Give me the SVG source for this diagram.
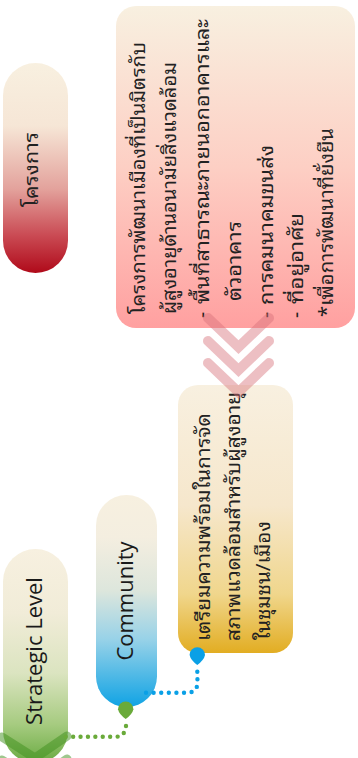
<svg xmlns="http://www.w3.org/2000/svg" width="358" height="758" viewBox="0 0 358 758">
  <defs>
    <linearGradient id="gradProject" x1="0" y1="0" x2="0" y2="1">
      <stop offset="0" stop-color="#f8f0e0"/>
      <stop offset="0.3" stop-color="#f6e6d6"/>
      <stop offset="0.6" stop-color="#e3a29c"/>
      <stop offset="0.82" stop-color="#ca4b54"/>
      <stop offset="1" stop-color="#b00a1a"/>
    </linearGradient>
    <linearGradient id="gradDetail" x1="0" y1="0" x2="0" y2="1">
      <stop offset="0" stop-color="#f8f0e0"/>
      <stop offset="0.5" stop-color="#fdcfc4"/>
      <stop offset="1" stop-color="#ffa0a0"/>
    </linearGradient>
    <linearGradient id="gradPrepare" x1="0" y1="0" x2="0" y2="1">
      <stop offset="0" stop-color="#f8f0e0"/>
      <stop offset="0.45" stop-color="#f6e7cc"/>
      <stop offset="0.78" stop-color="#f0d68c"/>
      <stop offset="1" stop-color="#e2ad22"/>
    </linearGradient>
    <linearGradient id="gradCommunity" x1="0" y1="0" x2="0" y2="1">
      <stop offset="0" stop-color="#f7f0e0"/>
      <stop offset="0.2" stop-color="#f4eee0"/>
      <stop offset="0.45" stop-color="#dde6dc"/>
      <stop offset="0.68" stop-color="#98d2e8"/>
      <stop offset="1" stop-color="#10a3e4"/>
    </linearGradient>
    <linearGradient id="gradStrategic" x1="0" y1="0" x2="0" y2="1">
      <stop offset="0" stop-color="#f7f0e0"/>
      <stop offset="0.3" stop-color="#f1ecd8"/>
      <stop offset="0.58" stop-color="#dbe4c0"/>
      <stop offset="0.82" stop-color="#a6cb80"/>
      <stop offset="1" stop-color="#6aab42"/>
    </linearGradient>
    <style>
      .thai { font-family: "Noto Sans Thai Looped", "Noto Serif Thai", "Loma", "Garuda", "Noto Sans Thai", "Noto Sans", sans-serif; font-size: 19px; fill: #222; }
      .latin { font-family: "Open Sans", "Liberation Sans", sans-serif; font-size: 22px; fill: #1a1a1a; }
      .chev-red { fill: none; stroke: #d8707a; stroke-opacity: 0.45; stroke-width: 10; stroke-linecap: round; stroke-linejoin: miter; }
      .chev-green { fill: none; stroke: #3f8f1e; stroke-opacity: 0.5; stroke-width: 9; stroke-linecap: round; }
      .dots-blue { fill: none; stroke: #0aa0e6; stroke-width: 4.4; stroke-linecap: round; stroke-dasharray: 0 7.6; }
      .dots-green { fill: none; stroke: #6aaa3a; stroke-width: 4.4; stroke-linecap: round; stroke-dasharray: 0 7.4; }
    </style>
  </defs>

  <!-- project heading -->
  <g id="node-project">
    <rect x="3" y="63" width="65" height="210" rx="32.5" fill="url(#gradProject)"/>
    <text class="thai" transform="rotate(-90)" x="-207" y="38" textLength="75" lengthAdjust="spacingAndGlyphs">โครงการ</text>
  </g>

  <!-- project detail card -->
  <g id="node-detail">
    <rect x="116" y="6" width="239" height="322" rx="20" fill="url(#gradDetail)"/>
    <g class="thai" transform="rotate(-90)" lengthAdjust="spacingAndGlyphs">
      <text x="-314" y="145" textLength="272" lengthAdjust="spacingAndGlyphs">โครงการพัฒนาเมืองที่เป็นมิตรกับ</text>
      <text x="-314" y="176" textLength="252" lengthAdjust="spacingAndGlyphs">ผู้สูงอายุด้านอนามัยสิ่งแวดล้อม</text>
      <text x="-318" y="209">-</text>
      <text x="-304" y="209" textLength="285" lengthAdjust="spacingAndGlyphs">พื้นที่สาธารณะภายนอกอาคารและ</text>
      <text x="-301" y="241" textLength="80" lengthAdjust="spacingAndGlyphs">ตัวอาคาร</text>
      <text x="-318" y="273">-</text>
      <text x="-305" y="273" textLength="160" lengthAdjust="spacingAndGlyphs">การคมนาคมขนส่ง</text>
      <text x="-318" y="303">-</text>
      <text x="-304" y="303" textLength="91" lengthAdjust="spacingAndGlyphs">ที่อยู่อาศัย</text>
      <text x="-317" y="333" textLength="189" lengthAdjust="spacingAndGlyphs">*เพื่อการพัฒนาที่ยั่งยืน</text>
    </g>
  </g>

  <!-- preparation card -->
  <g id="node-prepare">
    <rect x="178" y="385" width="115" height="268" rx="20" fill="url(#gradPrepare)"/>
    <g class="thai" transform="rotate(-90)">
      <text x="-641" y="210" textLength="228" lengthAdjust="spacingAndGlyphs">เตรียมความพร้อมในการจัด</text>
      <text x="-641" y="240" textLength="249" lengthAdjust="spacingAndGlyphs">สภาพแวดล้อมสำหรับผู้สูงอายุ</text>
      <text x="-640" y="270" textLength="119" lengthAdjust="spacingAndGlyphs">ในชุมชน/เมือง</text>
    </g>
  </g>

  <!-- community level -->
  <g id="node-community">
    <rect x="96" y="495" width="61" height="212" rx="30.5" fill="url(#gradCommunity)"/>
    <text class="latin" transform="rotate(-90)" x="-601" y="133" text-anchor="middle">Community</text>
  </g>

  <!-- strategic level -->
  <g id="node-strategic">
    <rect x="3" y="549" width="65" height="214" rx="32.5" fill="url(#gradStrategic)"/>
    <text class="latin" transform="rotate(-90)" x="-651" y="42" text-anchor="middle">Strategic Level</text>
  </g>

  <!-- connectors -->
  <g id="connectors">
    <polyline class="chev-red" points="208,318 238.5,347 269,318"/>
    <polyline class="chev-red" points="208,341 238.5,370 269,341"/>
    <polyline class="chev-red" points="208,363 238.5,392 269,363"/>

    <polyline class="chev-green" points="2,737 35,758 67,736"/>
    <polyline class="chev-green" points="2,760 35,781 67,759" stroke-opacity="0.2"/>

    <path class="dots-blue" d="M197.3,671.7 L197.5,683 Q197,692.7 187,692.7 L145,692.7"/>
    <path d="M189.6,655 A7.7,7.7 0 1 1 205,655 Q204,660 197.3,665 Q190.6,660 189.6,655 Z" fill="#0aa0e6"/>

    <path class="dots-green" d="M126,726 Q125,736.7 116,736.7 L62,736.7"/>
    <path d="M118,709.3 A7.7,7.7 0 1 1 133.4,709.3 Q132.4,714.3 125.7,719 Q119,714.3 118,709.3 Z" fill="#6aaa3a"/>
  </g>
</svg>
